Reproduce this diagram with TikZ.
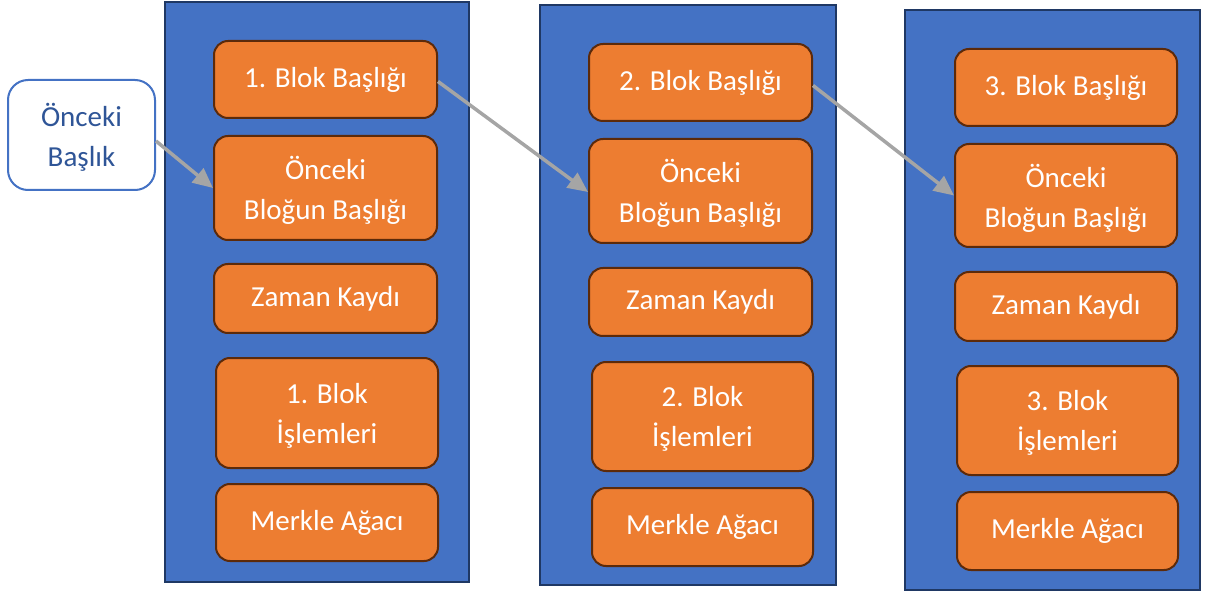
\documentclass[tikz,border=0pt]{standalone}
\usepackage{fontspec}
\setmainfont{Carlito}
\usetikzlibrary{arrows.meta}
\definecolor{blueF}{HTML}{4472C4}
\definecolor{blueD}{HTML}{1F3864}
\definecolor{orangeF}{HTML}{ED7D31}
\definecolor{orangeD}{HTML}{5C2A0A}
\definecolor{txtB}{HTML}{2F5597}
\definecolor{arrG}{HTML}{A5A5A5}
\tikzset{
  column/.style={draw=blueD, fill=blueF, line width=1.5pt, inner sep=0pt},
  field/.style={draw=orangeD, fill=orangeF, line width=2pt, rounded corners=14pt, inner sep=0pt,
    text=white, align=center, font=\fontsize{29}{40}\selectfont},
  twoline/.style={text depth=0pt},
  prev/.style={draw=blueF, fill=white, line width=2pt, rounded corners=20pt, inner sep=0pt,
    text=txtB, align=center, font=\fontsize{29}{40}\selectfont, text depth=0pt},
  link/.style={draw=arrG, line width=3.5pt, -{Triangle[length=20pt,width=18pt]}}
}
\begin{document}
\begin{tikzpicture}[x=1pt,y=-1pt]
\useasboundingbox (0,0) rectangle (1212,593);
% columns
\node[column, minimum width=304pt, minimum height=580pt] (c1) at (317,292) {};
\node[column, minimum width=296pt, minimum height=580pt] (c2) at (688,295) {};
\node[column, minimum width=295pt, minimum height=580pt] (c3) at (1052.5,300) {};
% column 1
\node[field, minimum width=223pt, minimum height=77pt] (h1) at (325.5,79.5) {1. Blok Başlığı};
\node[field, twoline, minimum width=223pt, minimum height=104pt] (p1) at (325.5,188) {Önceki\\Bloğun Başlığı};
\node[field, minimum width=223pt, minimum height=69pt] (z1) at (325.5,298.5) {Zaman Kaydı};
\node[field, twoline, minimum width=222pt, minimum height=110pt] (i1) at (327,413) {1. Blok\\İşlemleri};
\node[field, minimum width=222pt, minimum height=77pt] (m1) at (327,522.5) {Merkle Ağacı};
% column 2
\node[field, minimum width=223pt, minimum height=77pt] (h2) at (700.5,82.5) {2. Blok Başlığı};
\node[field, twoline, minimum width=223pt, minimum height=104pt] (p2) at (700.5,191) {Önceki\\Bloğun Başlığı};
\node[field, minimum width=223pt, minimum height=68pt] (z2) at (700.5,302) {Zaman Kaydı};
\node[field, twoline, minimum width=221pt, minimum height=109pt] (i2) at (702.5,416.5) {2. Blok\\İşlemleri};
\node[field, minimum width=221pt, minimum height=78pt] (m2) at (702.5,527) {Merkle Ağacı};
% column 3
\node[field, minimum width=222pt, minimum height=77pt] (h3) at (1066,87.5) {3. Blok Başlığı};
\node[field, twoline, minimum width=222pt, minimum height=103pt] (p3) at (1066,195.5) {Önceki\\Bloğun Başlığı};
\node[field, minimum width=222pt, minimum height=69pt] (z3) at (1066,306.5) {Zaman Kaydı};
\node[field, twoline, minimum width=221pt, minimum height=109pt] (i3) at (1067.5,420.5) {3. Blok\\İşlemleri};
\node[field, minimum width=221pt, minimum height=78pt] (m3) at (1067.5,531) {Merkle Ağacı};
% previous header
\node[prev, minimum width=147pt, minimum height=110pt] (ob) at (81.5,135) {Önceki\\Başlık};
% arrows
\draw[link] ([yshift=-6pt]ob.east) -- (p1.west);
\draw[link] ([yshift=-2pt]h1.east) -- ([yshift=-1pt]p2.west);
\draw[link] ([yshift=-3pt]h2.east) -- (p3.west);
\end{tikzpicture}
\end{document}
